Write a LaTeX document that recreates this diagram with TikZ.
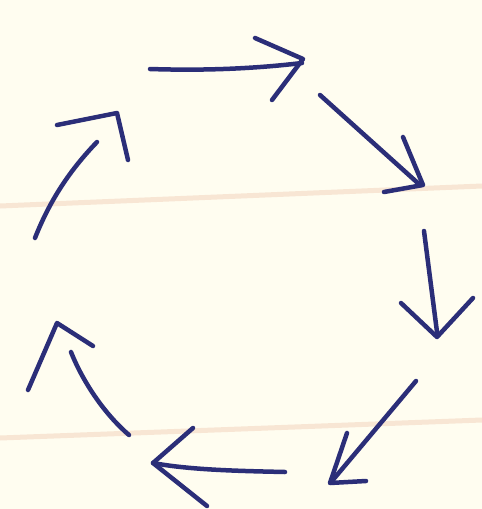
\documentclass[tikz,border=0pt]{standalone}
\begin{document}
\begin{tikzpicture}[x=1pt,y=-1pt,
  ink/.style={draw=inkblue,line width=4.5pt,line cap=round,line join=round},
  rule/.style={draw=ruleorange,line width=5pt}]
\definecolor{inkblue}{HTML}{2B2E78}
\definecolor{paper}{HTML}{FFFDF0}
\definecolor{ruleorange}{HTML}{F8E6D4}
\fill[paper] (0,0) rectangle (482,509);
\useasboundingbox (0,0) rectangle (482,509);
% ruled lines of the paper
\path[rule] (0,206) -- (482,186);
\path[rule] (0,438) -- (482,420);
% arrow 1 (top, to the right)
\path[ink] (150,69) .. controls (210,71) and (260,68) .. (302,63);
\path[ink] (255,38) -- (303,59) -- (272,100);
% arrow 2 (down-right)
\path[ink] (320,95) -- (420,185);
\path[ink] (403,137) -- (423,185) -- (384,192);
% arrow 3 (down)
\path[ink] (424,231) -- (437,332);
\path[ink] (401,303) -- (437,337) -- (473,298);
% arrow 4 (down-left)
\path[ink] (416,381) -- (332,481);
\path[ink] (347,433) -- (330,483) -- (366,481);
% arrow 5 (bottom, to the left)
\path[ink] (285,472) .. controls (240,471) and (190,470) .. (153,463);
\path[ink] (193,428) -- (153,463) -- (207,506);
% arrow 6 (up-left)
\path[ink] (129,435) .. controls (100,410) and (80,375) .. (71,352);
\path[ink] (28,390) -- (57,323) -- (93,346);
% arrow 7 (up-right)
\path[ink] (35,238) .. controls (50,200) and (70,170) .. (97,142);
\path[ink] (57,125) -- (117,113) -- (128,160);
\end{tikzpicture}
\end{document}
